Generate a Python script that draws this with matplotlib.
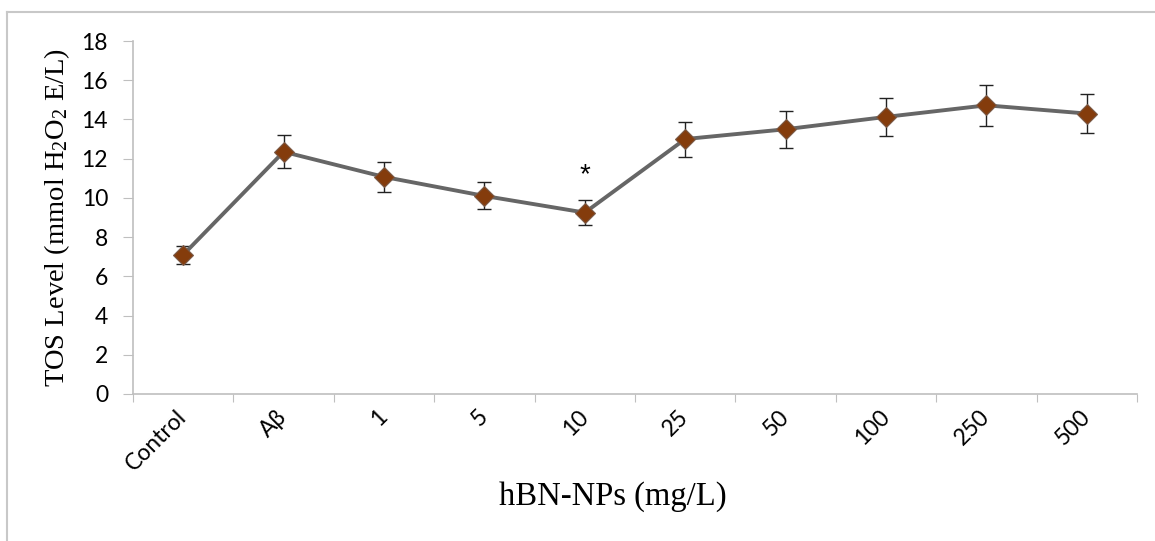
import matplotlib
matplotlib.use("Agg")
import matplotlib.pyplot as plt
import matplotlib.transforms as mtransforms
import numpy as np
from matplotlib.lines import Line2D

categories = ["Control", "Aβ", "1", "5", "10", "25", "50", "100", "250", "500"]
tos_values = [7.1, 12.35, 11.07, 10.1, 9.25, 13.0, 13.5, 14.13, 14.72, 14.3]
tos_errors = [0.46, 0.84, 0.77, 0.69, 0.64, 0.89, 0.94, 0.98, 1.03, 1.0]
star_index = 4
star_y = 11.15

plt.rcParams['mathtext.fontset'] = 'custom'
plt.rcParams['mathtext.rm'] = 'Liberation Serif'
plt.rcParams['mathtext.it'] = 'Liberation Serif:italic'
plt.rcParams['mathtext.bf'] = 'Liberation Serif:bold'

W, H = 1155, 541
fig = plt.figure(figsize=(W/100, H/100), dpi=100)
ax = fig.add_axes([133/W, 1-394/H, (1137-133)/W, (394-41)/H])

x = np.arange(len(categories)) + 0.5
ax.errorbar(x, tos_values, yerr=tos_errors, fmt='none', ecolor='#222222',
            elinewidth=1.0, capsize=5, capthick=1.0, zorder=2)
ax.plot(x, tos_values, color='#666666', lw=2.8, marker='D', markersize=10,
        markerfacecolor='#843C0C', markeredgecolor='#7a5a48', markeredgewidth=0.8, zorder=3)
ax.text(x[star_index], star_y, '*', ha='center', va='center', fontsize=20,
        family='Liberation Sans', color='black')

ax.set_xlim(0, len(categories))
ax.set_ylim(0, 18)
ax.set_yticks(np.arange(0, 19, 2))
ax.set_xticks(np.arange(0, len(categories)+1))
ax.set_xticklabels([])
ax.set_xticks(x, minor=True)
ax.set_xticklabels(categories, minor=True, rotation=45, ha='right', va='center',
                   rotation_mode='anchor', family='Lato', fontsize=16.5)
offset = mtransforms.ScaledTranslation(8/100, 0, fig.dpi_scale_trans)
for lab in ax.get_xticklabels(minor=True):
    lab.set_transform(lab.get_transform() + offset)
ax.tick_params(axis='x', which='minor', length=0, pad=14)
ax.tick_params(axis='x', which='major', length=6, color='#BFBFBF', direction='out')
ax.tick_params(axis='y', length=7, color='#BFBFBF', direction='out', pad=11)
for lab in ax.get_yticklabels():
    lab.set_family('Lato'); lab.set_fontsize(16.5)

for s in ['top', 'right']:
    ax.spines[s].set_visible(False)
for s in ['left', 'bottom']:
    ax.spines[s].set_color('#BFBFBF')
    ax.spines[s].set_linewidth(1.2)

axw = 1137 - 133
axh = 394 - 41
ax.set_ylabel('TOS Level (mmol H$_2$O$_2$ E/L)', family='Liberation Serif', fontsize=20.5)
ax.yaxis.set_label_coords(-(133-72)/axw, 0.5)
ax.set_xlabel('hBN-NPs (mg/L)', family='Liberation Serif', fontsize=23.5)
ax.xaxis.set_label_coords((613-133)/axw, -(497-394)/axh)
ax.xaxis.label.set_va('center')

fig.add_artist(Line2D([7/W, 7/W], [0, 1-12/H], color='#C8C8C8', lw=1.5, transform=fig.transFigure))
fig.add_artist(Line2D([7/W, 1], [1-12/H, 1-12/H], color='#C8C8C8', lw=1.5, transform=fig.transFigure))

fig.savefig('out.png', dpi=100)
